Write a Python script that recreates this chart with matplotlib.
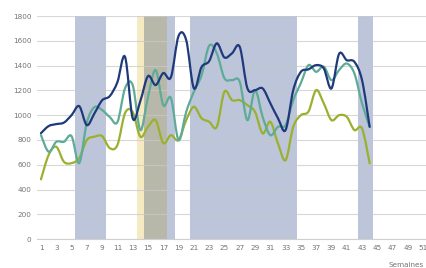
import matplotlib
matplotlib.use('Agg')
import matplotlib.pyplot as plt
from matplotlib.path import Path
from matplotlib.patches import PathPatch
import numpy as np

weeks = list(range(1, 45))

serie_bleue = [855, 912, 928, 940, 1000, 1073, 920, 1015, 1120, 1154,
               1267, 1470, 975, 1115, 1315, 1243, 1340, 1307, 1640, 1606,
               1218, 1388, 1436, 1580, 1466, 1500, 1552, 1218, 1202, 1216,
               1097, 976, 880, 1202, 1350, 1370, 1404, 1377, 1216, 1495,
               1444, 1431, 1283, 906]
serie_verte = [839, 705, 785, 785, 831, 613, 940, 1065, 1041, 985,
               944, 1218, 1243, 880, 1148, 1364, 1081, 1138, 799, 1027,
               1189, 1320, 1560, 1500, 1298, 1283, 1270, 960, 1200, 986,
               839, 906, 920, 1121, 1260, 1404, 1350, 1392, 1283, 1364,
               1417, 1337, 1095, 906]
serie_olive = [482, 678, 745, 624, 613, 654, 799, 826, 831, 734,
               759, 1017, 1025, 826, 906, 960, 775, 839, 799, 960,
               1068, 976, 947, 906, 1189, 1121, 1121, 1081, 1027, 853,
               947, 772, 637, 906, 1000, 1030, 1202, 1095, 960, 1000,
               987, 880, 893, 611]

# périodes (semaines de début / fin)
periodes_bleues = [(6, 9), (15, 18), (21, 34), (43, 44)]
periode_jaune = (14, 17)

x_ticks = list(range(1, 52, 2))
y_ticks = list(range(0, 1801, 200))


def smooth_path(xs, ys):
    pts = np.column_stack([xs, ys]).astype(float)
    n = len(pts)
    verts = [pts[0]]
    codes = [Path.MOVETO]
    for i in range(n - 1):
        p0 = pts[i - 1] if i > 0 else pts[i]
        p1 = pts[i]
        p2 = pts[i + 1]
        p3 = pts[i + 2] if i + 2 < n else pts[i + 1]
        c1 = p1 + (p2 - p0) / 6.0
        c2 = p2 - (p3 - p1) / 6.0
        verts += [c1, c2, p2]
        codes += [Path.CURVE4] * 3
    return Path(verts, codes)


fig = plt.figure(figsize=(4.27, 2.68), dpi=100)
ax = fig.add_axes([0.087, 0.108, 0.913, 0.832])

blue_band = '#bcc5d9'
yellow_band = '#f5eac2'
overlap = '#b8b8aa'

for a, b in periodes_bleues:
    ax.axvspan(a - 0.5, b + 0.5, color=blue_band, lw=0, zorder=0)
ja, jb = periode_jaune
ax.axvspan(ja - 0.5, jb + 0.5, color=yellow_band, lw=0, zorder=0.5)
for a, b in periodes_bleues:
    lo, hi = max(a, ja), min(b, jb)
    if lo <= hi:
        ax.axvspan(lo - 0.5, hi + 0.5, color=overlap, lw=0, zorder=0.6)

for series, col in [(serie_olive, '#9bb02e'), (serie_verte, '#5eab98'),
                    (serie_bleue, '#1f3a7c')]:
    patch = PathPatch(smooth_path(weeks, series), facecolor='none',
                      edgecolor=col, lw=1.6, zorder=3, capstyle='round')
    ax.add_patch(patch)

ax.set_xlim(0.5, 51.5)
ax.set_ylim(0, 1800)
ax.set_xticks(x_ticks)
ax.set_yticks(y_ticks)
ax.set_axisbelow(False)
ax.yaxis.grid(True, color='#c8c8c8', lw=0.8, alpha=0.7, zorder=1)
ax.tick_params(axis='both', length=0, labelsize=5.2, colors='#737373', pad=4)
for s in ['top', 'right', 'left']:
    ax.spines[s].set_visible(False)
ax.spines['bottom'].set_color('#d0d0d0')
ax.spines['bottom'].set_linewidth(0.8)

fig.text(0.951, 0.024, 'Semaines', ha='center', va='top', fontsize=5.2,
         color='#737373')

fig.savefig('out.png', dpi=100)
